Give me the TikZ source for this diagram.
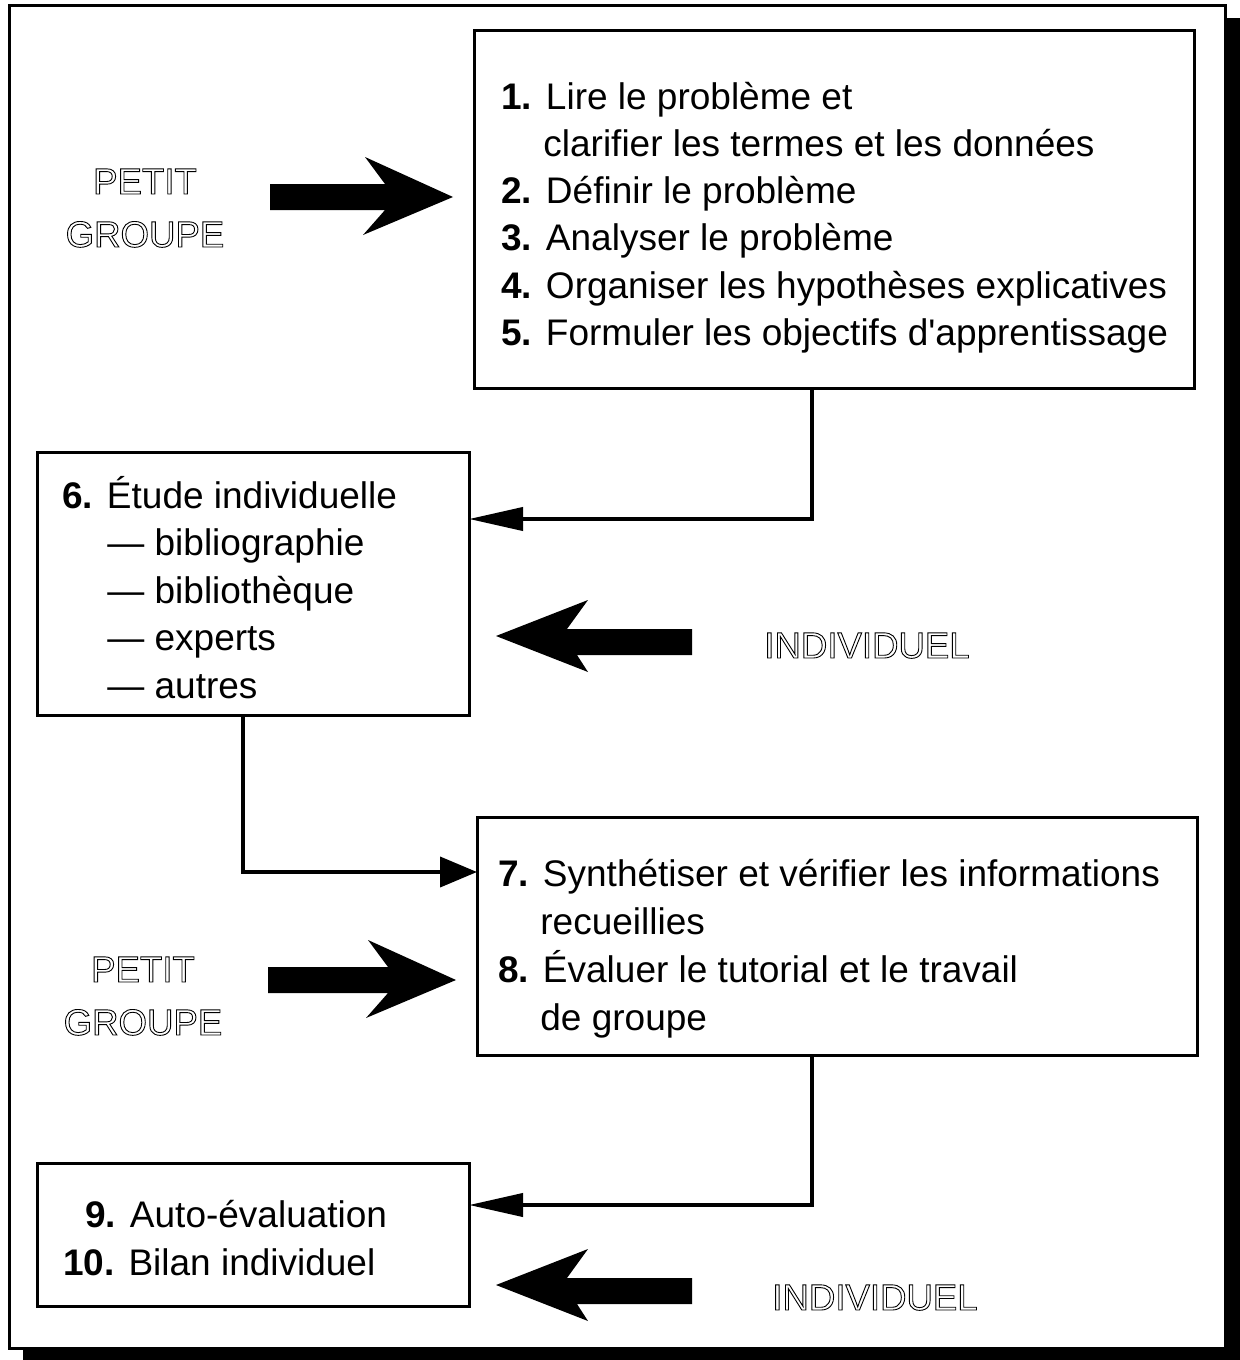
\documentclass[tikz,border=0pt]{standalone}
\usepackage{fontspec}
\setmainfont{Liberation Sans}[Ligatures=TeXOff]
\usetikzlibrary{arrows.meta}
\newcommand{\outl}[1]{\special{pdf:literal direct 1 Tr 0.45 w}#1\special{pdf:literal direct 0 Tr}}
\begin{document}
\begin{tikzpicture}[x=0.5pt,y=-0.5pt,
  box/.style={draw, line width=1.5pt, fill=white, anchor=north west, inner sep=0pt, outer sep=0pt},
  conn/.style={line width=2pt, line join=miter},
  txt/.style={anchor=base west, inner sep=0pt, font=\fontsize{18.5}{22}\selectfont},
  outline/.style={anchor=base, inner sep=0pt, font=\fontsize{18.3}{22}\selectfont},
  bigarrow/.style={fill=black}]
\useasboundingbox (0,0) rectangle (1240,1360);
% frame with shadow
\fill (23,18) rectangle (1240,1360);
\draw[line width=1.5pt, fill=white] (9,5) rectangle (1225,1348);

% boxes
\node[box, minimum width=360pt, minimum height=179pt] (b1) at (474,30) {};
\node[box, minimum width=216pt, minimum height=131.5pt] (b6) at (37,452) {};
\node[box, minimum width=360pt, minimum height=119pt] (b7) at (477,817) {};
\node[box, minimum width=216pt, minimum height=71.5pt] (b9) at (37,1163) {};

% texts box 1
\node[txt] (t1) at (501,109) {\textbf{1.} Lire le problème et};
\node[txt] (t1b) at (543,156) {clarifier les termes et les données};
\node[txt] (t2) at (501,203) {\textbf{2.} Définir le problème};
\node[txt] (t3) at (501,250) {\textbf{3.} Analyser le problème};
\node[txt] (t4) at (501,298) {\textbf{4.} Organiser les hypothèses explicatives};
\node[txt] (t5) at (501,345) {\textbf{5.} Formuler les objectifs d'apprentissage};

% texts box 6
\node[txt] (t6) at (62,508) {\textbf{6.} Étude individuelle};
\node[txt] (t6a) at (107,555) {— bibliographie};
\node[txt] (t6b) at (107,603) {— bibliothèque};
\node[txt] (t6c) at (107,650) {— experts};
\node[txt] (t6d) at (107,698) {— autres};

% texts box 7
\node[txt] (t7) at (498,886) {\textbf{7.} Synthétiser et vérifier les informations};
\node[txt] (t7b) at (540,934) {recueillies};
\node[txt] (t8) at (498,982) {\textbf{8.} Évaluer le tutorial et le travail};
\node[txt] (t8b) at (540,1030) {de groupe};

% texts box 9
\node[txt] (t9) at (85,1227) {\textbf{9.} Auto-évaluation};
\node[txt] (t10) at (63,1275) {\textbf{10.} Bilan individuel};

% connectors
\coordinate (c1) at (812,519);
\coordinate (c2) at (243,872);
\coordinate (c3) at (812,1205);
\draw[conn, -{Triangle[length=27pt,width=11.5pt]}] (b1.south -| c1) |- (b6.east |- c1);
\draw[conn, -{Triangle[length=18.5pt,width=15pt]}] (b6.south -| c2) |- (b7.west |- c2);
\draw[conn, -{Triangle[length=27pt,width=11.5pt]}] (b7.south -| c3) |- (b9.east |- c3);

% big arrows
\fill[bigarrow] (270,184) -- (385,184) -- (365,157) -- (453,197) -- (363,235) -- (385,210) -- (270,210) -- cycle;
\begin{scope}[shift={(3,783)}]
\fill[bigarrow] (265,184) -- (385,184) -- (365,157) -- (453,197) -- (363,235) -- (385,210) -- (265,210) -- cycle;
\end{scope}
\fill[bigarrow] (496,636) -- (588,600) -- (567,629) -- (692,629) -- (692,655) -- (577,655) -- (588,672) -- cycle;
\begin{scope}[shift={(0,649)}]
\fill[bigarrow] (496,636) -- (588,600) -- (567,629) -- (692,629) -- (692,655) -- (577,655) -- (588,672) -- cycle;
\end{scope}

% outlined labels
\node[outline] (pg1a) at (145,194) {\outl{PETIT}};
\node[outline] (pg1b) at (145,247) {\outl{GROUPE}};
\node[outline] (in1) at (867,658) {\outl{INDIVIDUEL}};
\node[outline] (pg2a) at (143,982) {\outl{PETIT}};
\node[outline] (pg2b) at (143,1035) {\outl{GROUPE}};
\node[outline] (in2) at (875,1310) {\outl{INDIVIDUEL}};
\end{tikzpicture}
\end{document}
